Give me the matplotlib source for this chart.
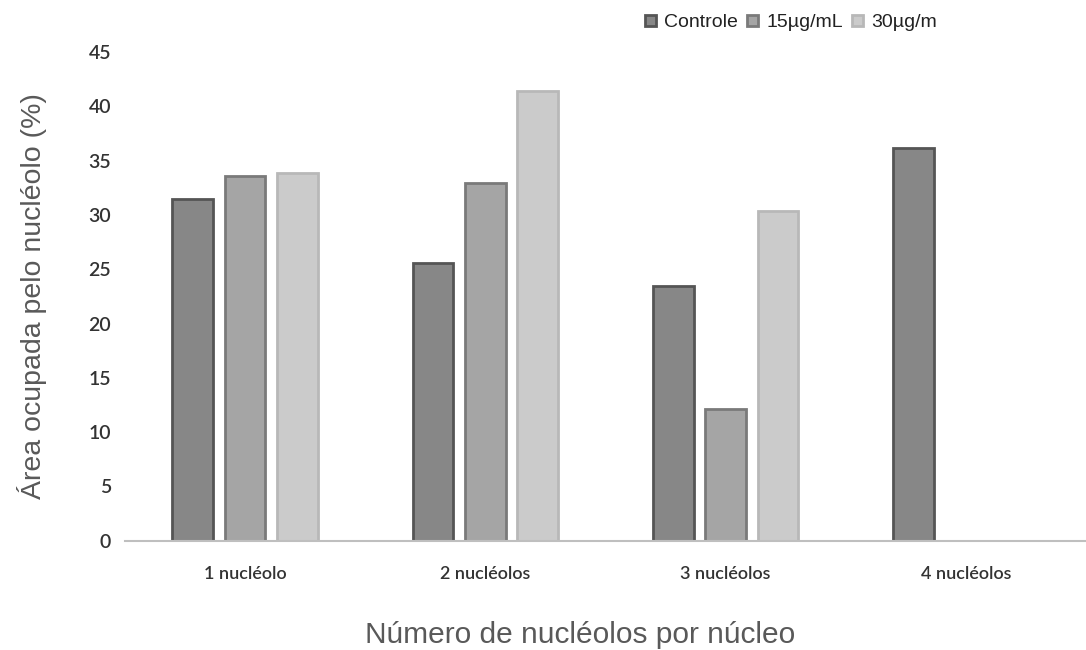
import matplotlib.pyplot as plt
import numpy as np

categorias = ["1 nucléolo", "2 nucléolos", "3 nucléolos", "4 nucléolos"]
series = ["Controle", "15µg/mL", "30µg/m"]
controle = [31.5, 25.6, 23.5, 36.2]
dose_15 = [33.6, 32.9, 12.1, 0]
dose_30 = [33.9, 41.4, 30.4, 0]
yticks = [0, 5, 10, 15, 20, 25, 30, 35, 40, 45]

cores = ["#878787", "#a5a5a5", "#cbcbcb"]
bordas = ["#555555", "#7a7a7a", "#b8b8b8"]
fonte_eixo = ["Lato", "DejaVu Sans"]

fig = plt.figure(figsize=(10.86, 6.5), dpi=100)
ax = fig.add_axes([0.115, 0.168, 0.885, 0.752])

x = np.arange(len(categorias))
largura = 0.169
passo = 0.218
for i, (nome, valores) in enumerate(zip(series, [controle, dose_15, dose_30])):
    ax.bar(x + (i - 1) * passo, valores, largura, color=cores[i],
           edgecolor=bordas[i], linewidth=2, label=nome)

ax.set_xlim(-0.5, 3.5)
ax.set_ylim(0, 45)
ax.set_yticks(yticks)
ax.set_xticks(x)
ax.set_xticklabels(categorias, family=fonte_eixo, fontsize=13,
                   fontweight="semibold", color="#333333")
for lbl in ax.get_yticklabels():
    lbl.set_family(fonte_eixo)
    lbl.set_fontsize(14)
    lbl.set_fontweight("semibold")
    lbl.set_color("#333333")
ax.tick_params(axis="y", length=0, pad=10)
ax.tick_params(axis="x", length=0, pad=18)

for lado in ["top", "right", "left"]:
    ax.spines[lado].set_visible(False)
ax.spines["bottom"].set_color("#bfbfbf")
ax.spines["bottom"].set_linewidth(1.5)

ax.set_ylabel("Área ocupada pelo nucléolo (%)", fontsize=20.5, color="#595959",
              family="Liberation Sans", labelpad=30)
ax.set_xlabel("Número de nucléolos por núcleo", fontsize=21.5, color="#595959",
              family="Liberation Sans", labelpad=28)
ax.xaxis.label.set_x(0.474)

leg = fig.legend(loc="upper right", bbox_to_anchor=(0.879, 1.005), ncol=3,
                 frameon=False, handlelength=0.55, handleheight=0.55,
                 handletextpad=0.45, columnspacing=0.45,
                 prop={"family": "Liberation Sans", "size": 14})
for t in leg.get_texts():
    t.set_color("#222222")

fig.savefig("out.png", dpi=100)
